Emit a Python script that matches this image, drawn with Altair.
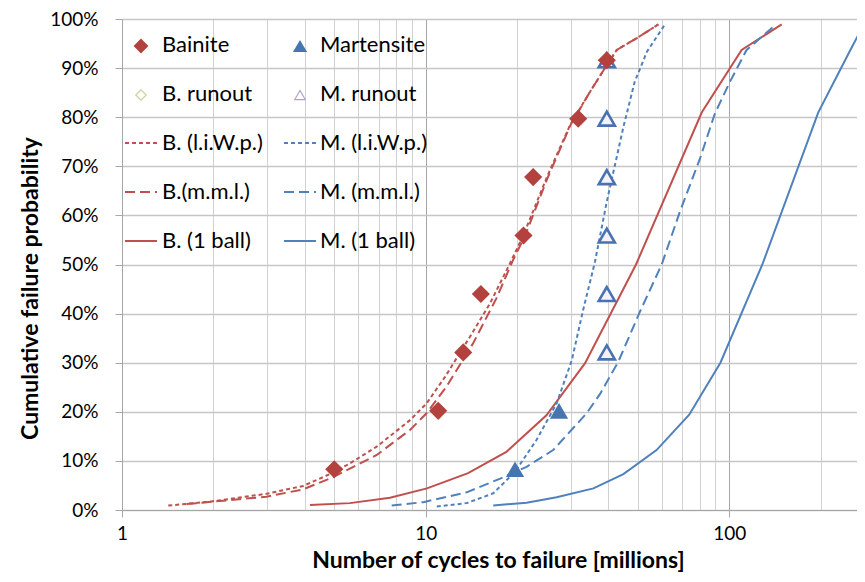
import altair as alt
import pandas as pd

# ---------------- data ----------------
b_fail_x = [5.0, 11.0, 13.3, 15.2, 21.0, 22.6, 31.8, 39.5]
b_fail_y = [0.083, 0.202, 0.321, 0.440, 0.559, 0.678, 0.797, 0.916]
m_fail_x = [19.7, 27.5]
m_fail_y = [0.083, 0.202]
m_run_x = [39.5, 39.5, 39.5, 39.5, 39.5, 39.5]
m_run_y = [0.321, 0.440, 0.559, 0.678, 0.797, 0.916]

b_liwp_x = [1.42, 1.95, 2.99, 3.95, 4.96, 5.63, 6.9, 8.88, 10.07, 11.58, 14.0, 16.3, 18.95, 21.0, 25.0, 29.9, 34.8, 39.5, 42.6, 49.6, 58.4]
b_liwp_y = [0.009, 0.017, 0.033, 0.049, 0.076, 0.095, 0.129, 0.183, 0.217, 0.271, 0.353, 0.421, 0.502, 0.56, 0.676, 0.784, 0.852, 0.906, 0.937, 0.961, 0.989]

b_mml_x = [1.63, 2.99, 3.95, 4.96, 6.9, 8.88, 10.07, 11.7, 14.35, 17.1, 19.4, 21.3, 25.2, 30.0, 34.8, 39.5, 42.6, 49.6, 58.4]
b_mml_y = [0.012, 0.027, 0.042, 0.067, 0.112, 0.163, 0.197, 0.251, 0.340, 0.431, 0.509, 0.56, 0.676, 0.784, 0.852, 0.906, 0.937, 0.961, 0.989]

b_ball_x = [4.16, 5.63, 7.63, 10.1, 13.8, 18.5, 25.0, 33.5, 49.3, 81.2, 109.8, 148.8]
b_ball_y = [0.010, 0.014, 0.025, 0.044, 0.075, 0.119, 0.193, 0.299, 0.50, 0.81, 0.937, 0.989]

m_liwp_x = [10.88, 13.65, 16.7, 19.7, 23.2, 27.0, 30.3, 33.0, 36.1, 39.5, 44.8, 48.8, 53.5, 61.4]
m_liwp_y = [0.007, 0.014, 0.034, 0.078, 0.143, 0.217, 0.305, 0.407, 0.505, 0.628, 0.78, 0.872, 0.933, 0.989]

m_mml_x = [7.73, 9.82, 13.65, 17.6, 21.5, 26.3, 33.9, 37.5, 43.1, 50.8, 59.9, 68.8, 80.1, 89.7, 100.5, 114.0, 139.6]
m_mml_y = [0.009, 0.016, 0.036, 0.064, 0.088, 0.122, 0.197, 0.236, 0.302, 0.404, 0.50, 0.608, 0.716, 0.808, 0.872, 0.937, 0.984]

m_ball_x = [16.7, 21.5, 27.0, 35.7, 44.8, 57.6, 73.8, 93.5, 128.5, 196.4, 250.0, 278.0]
m_ball_y = [0.009, 0.015, 0.026, 0.044, 0.073, 0.122, 0.194, 0.30, 0.50, 0.81, 0.936, 0.99]

x_grid_values = [1, 2, 3, 4, 5, 6, 7, 8, 9, 10, 20, 30, 40, 50, 60, 70, 80, 90, 100, 200]
y_tick_values = [0, 0.1, 0.2, 0.3, 0.4, 0.5, 0.6, 0.7, 0.8, 0.9, 1.0]

legend_labels = ["Bainite", "Martensite", "B. runout", "M. runout",
                 "B. (l.i.W.p.)", "M. (l.i.W.p.)", "B.(m.m.l.)", "M. (m.m.l.)",
                 "B. (1 ball)", "M. (1 ball)"]

# ---------------- styles ----------------
RED = "#c0504d"
BLUE = "#4f81bd"
FONT = "Lato"
W, H = 735, 491
X_MAX = 263.4

xs = alt.Scale(type="log", domain=[1, X_MAX], nice=False)
ys = alt.Scale(domain=[0, 1], nice=False)

major = "datum.value == 1 || datum.value == 10 || datum.value == 100"
x_axis = alt.Axis(
    values=x_grid_values,
    labelExpr=f"({major}) ? ('' + datum.value) : ''",
    labelOverlap=False, labelFlush=False,
    labelFont=FONT, labelFontSize=19, labelColor="#000000", labelPadding=7,
    tickSize=7, tickColor="#a6a6a6",
    tickOpacity={"condition": {"test": major, "value": 1}, "value": 0},
    gridColor={"condition": {"test": major, "value": "#a6a6a6"}, "value": "#d2d2d2"},
    gridWidth=1,
    domainColor="#a6a6a6", domainWidth=1,
    title="Number of cycles to failure [millions]",
    titleFont=FONT, titleFontSize=23, titleFontWeight="bold", titleColor="#000000",
    titleX=376, titleY=57, titleAlign="center", titleBaseline="alphabetic",
)
y_axis = alt.Axis(
    values=y_tick_values, format=".0%",
    labelFont=FONT, labelFontSize=19, labelColor="#000000", labelPadding=17,
    tickSize=7, tickColor="#a6a6a6",
    gridColor="#c6c6c6", gridWidth=1.4,
    domainColor="#a6a6a6", domainWidth=1,
    title="Cumulative failure probability",
    titleFont=FONT, titleFontSize=23, titleFontWeight="bold", titleColor="#000000",
    titleX=-92, titleY=269, titleAlign="center", titleBaseline="middle", titleAngle=-90,
)


def line_layer(xv, yv, color, dash, width=2.0):
    df = pd.DataFrame({"x": xv, "y": yv, "o": range(len(xv))})
    kw = dict(color=color, strokeWidth=width, clip=True)
    if dash:
        kw["strokeDash"] = dash
    return alt.Chart(df).mark_line(**kw).encode(
        x=alt.X("x:Q", scale=xs, axis=x_axis),
        y=alt.Y("y:Q", scale=ys, axis=y_axis),
        order="o:Q",
    )


SHORT = [4, 3]
LONG = [10, 5]

lines = [
    line_layer(b_liwp_x, b_liwp_y, RED, SHORT),
    line_layer(b_mml_x, b_mml_y, RED, LONG),
    line_layer(b_ball_x, b_ball_y, RED, None),
    line_layer(m_liwp_x, m_liwp_y, BLUE, SHORT),
    line_layer(m_mml_x, m_mml_y, BLUE, LONG),
    line_layer(m_ball_x, m_ball_y, BLUE, None),
]


def pts(xv, yv, **kw):
    df = pd.DataFrame({"x": xv, "y": yv})
    return alt.Chart(df).mark_point(**kw).encode(
        x=alt.X("x:Q", scale=xs, axis=x_axis),
        y=alt.Y("y:Q", scale=ys, axis=y_axis),
    )


points = [
    pts(m_run_x, m_run_y, shape="triangle-up", size=260, filled=False, fill="#f4f2f8",
        fillOpacity=1, stroke="#4a72b0", strokeWidth=2.6, opacity=1),
    pts(b_fail_x, b_fail_y, shape="diamond", size=330, filled=True, color="#b3423f", opacity=1),
    pts(m_fail_x, m_fail_y, shape="triangle-up", size=330, filled=True, color="#4675b0", opacity=1),
]

# ---------------- manual legend (pixel positions inside plot) ----------------
col_text_x = [40, 198]
col_sym_x = [19, 178]
col_line_x = [(3, 35), (162, 194)]
row_y = [26 + 49 * r for r in range(5)]

leg_df = pd.DataFrame({
    "label": legend_labels,
    "tx": [col_text_x[i % 2] for i in range(len(legend_labels))],
    "ty": [row_y[i // 2] for i in range(len(legend_labels))],
})
legend_text = alt.Chart(leg_df).mark_text(
    align="left", baseline="middle", font=FONT, fontSize=22, color="#000000"
).encode(x=alt.X("tx:Q", scale=None), y=alt.Y("ty:Q", scale=None), text="label:N")


def leg_sym(i, **kw):
    d = pd.DataFrame({"k": [legend_labels[i]]})
    return alt.Chart(d).mark_point(**kw).encode(
        x=alt.value(col_sym_x[i % 2]), y=alt.value(row_y[i // 2] + 1))


def leg_line(i, color, dash):
    d = pd.DataFrame({"k": [legend_labels[i]]})
    kw = dict(color=color, strokeWidth=2)
    if dash:
        kw["strokeDash"] = dash
    a, b = col_line_x[i % 2]
    return alt.Chart(d).mark_rule(**kw).encode(
        x=alt.value(a), x2=alt.value(b), y=alt.value(row_y[i // 2]))


legend_layers = [
    leg_sym(0, shape="diamond", size=220, filled=True, color="#b3423f", opacity=1),
    leg_sym(1, shape="triangle-up", size=200, filled=True, color="#4675b0", opacity=1),
    leg_sym(2, shape="diamond", size=110, filled=False, stroke="#c3d69b", strokeWidth=1.2, opacity=1),
    leg_sym(3, shape="triangle-up", size=110, filled=False, stroke="#b3a2c7", strokeWidth=1.2, opacity=1),
    leg_line(4, RED, SHORT),
    leg_line(5, BLUE, SHORT),
    leg_line(6, RED, LONG),
    leg_line(7, BLUE, LONG),
    leg_line(8, RED, None),
    leg_line(9, BLUE, None),
    legend_text,
]

chart = alt.layer(*lines, *points, *legend_layers).properties(
    width=W, height=H,
    autosize=alt.AutoSizeParams(type="none"),
    padding={"left": 114, "top": 11, "right": 0, "bottom": 63},
    background="white",
).configure_view(stroke=None)

chart.save("out.html", embed_options={"renderer": "svg", "actions": False})
